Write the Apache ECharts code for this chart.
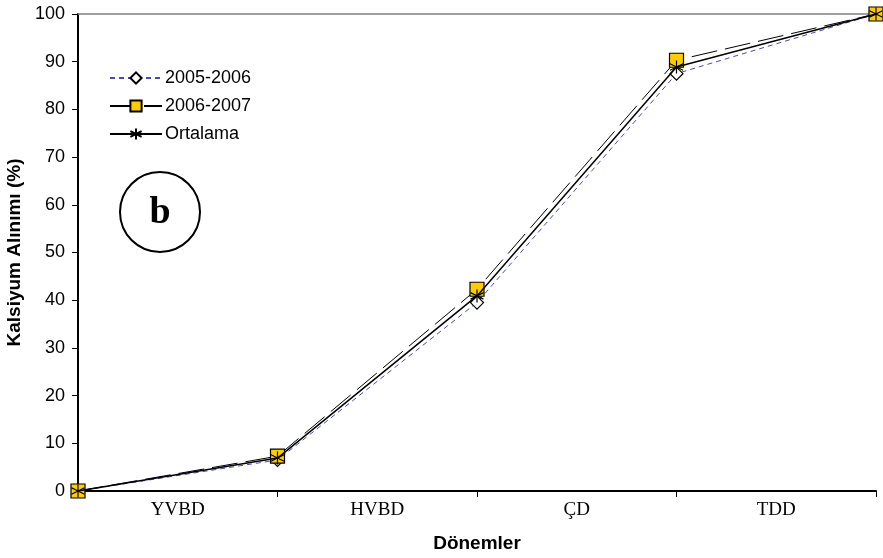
<!DOCTYPE html>
<html>
<head>
<meta charset="utf-8">
<script src="https://cdn.jsdelivr.net/npm/echarts@6/dist/echarts.min.js"></script>
<style>
html,body{margin:0;padding:0;background:#fff;}
#chart{width:883px;height:558px;}
</style>
</head>
<body>
<div id="chart"></div>
<script>
// Development periods shown between the tick marks
const periods = ['YVBD', 'HVBD', 'ÇD', 'TDD'];
// Cumulative calcium uptake (%) at each period boundary
const uptake2005 = [0, 6.5, 39.5, 87.5, 100];
const uptake2006 = [0, 7.3, 42.3, 90.3, 100];
const uptakeMean = [0, 6.9, 40.9, 88.9, 100];
const yTicks = [0, 10, 20, 30, 40, 50, 60, 70, 80, 90, 100];

const toPoints = arr => arr.map((v, i) => [i, v]);

const asterisk = 'path://M5,0L5,10M0,2.5L10,7.5M0,7.5L10,2.5';
const sansFont = 'Liberation Sans, Arial';

const chart = echarts.init(document.getElementById('chart'), null, {renderer: 'canvas'});

chart.setOption({
  animation: false,
  backgroundColor: '#fff',
  grid: {left: 78, right: 7, top: 14, bottom: 67, containLabel: false, outerBoundsMode: 'none'},
  legend: {
    orient: 'vertical',
    left: 104,
    top: 64,
    itemWidth: 52,
    itemHeight: 14,
    itemGap: 10,
    textStyle: {fontFamily: sansFont, fontSize: 18, color: '#000', padding: [0, 0, 0, -2]},
    data: ['2005-2006', '2006-2007', 'Ortalama']
  },
  xAxis: [
    {
      type: 'value', min: 0, max: periods.length, position: 'bottom',
      axisLine: {show: true, lineStyle: {color: '#000', width: 2}},
      axisTick: {show: false}, axisLabel: {show: false}, splitLine: {show: false}
    },
    {
      type: 'category', data: periods, boundaryGap: true, position: 'bottom',
      axisLine: {show: false},
      axisTick: {show: true, length: 6, lineStyle: {color: '#000', width: 1}},
      axisLabel: {fontFamily: 'Liberation Serif, Times New Roman', fontSize: 19, color: '#000', margin: 10},
      name: 'Dönemler', nameLocation: 'middle', nameGap: 43,
      nameTextStyle: {fontFamily: sansFont, fontWeight: 'bold', fontSize: 19, color: '#000'}
    },
    {
      type: 'value', min: 0, max: periods.length, position: 'top',
      axisLine: {show: true, lineStyle: {color: '#808080', width: 1.5}},
      axisTick: {show: false}, axisLabel: {show: false}, splitLine: {show: false}
    }
  ],
  yAxis: [
    {
      type: 'value', min: yTicks[0], max: yTicks[yTicks.length - 1], interval: 10,
      axisLine: {show: true, lineStyle: {color: '#000', width: 2}},
      axisTick: {show: true, length: 6, lineStyle: {color: '#000'}},
      axisLabel: {fontFamily: sansFont, fontSize: 18, color: '#000', margin: 13},
      splitLine: {show: false},
      name: 'Kalsiyum Alınımı (%)', nameLocation: 'middle', nameGap: 48,
      nameTextStyle: {fontFamily: sansFont, fontWeight: 'bold', fontSize: 19, color: '#000'}
    },
    {
      type: 'value', min: 0, max: 100, position: 'right',
      axisLine: {show: true, lineStyle: {color: '#000', width: 1.5}},
      axisTick: {show: false}, axisLabel: {show: false}, splitLine: {show: false}
    }
  ],
  series: [
    {
      name: '2005-2006', type: 'line', xAxisIndex: 0, yAxisIndex: 0,
      data: toPoints(uptake2005),
      lineStyle: {color: '#4a4ab0', width: 1, type: [5, 4]},
      symbol: 'diamond', symbolSize: 13, showAllSymbol: true,
      itemStyle: {color: '#fff', borderColor: '#000', borderWidth: 1.2},
      z: 2
    },
    {
      name: '2006-2007', type: 'line', xAxisIndex: 0, yAxisIndex: 0,
      data: toPoints(uptake2006),
      lineStyle: {color: '#000', width: 1, type: [26, 8]},
      symbol: 'rect', symbolSize: 14, showAllSymbol: true,
      itemStyle: {color: '#FFCC00', borderColor: '#000', borderWidth: 1.2},
      z: 3
    },
    {
      name: 'Ortalama', type: 'line', xAxisIndex: 0, yAxisIndex: 0,
      data: toPoints(uptakeMean),
      lineStyle: {color: '#000', width: 1.5},
      symbol: asterisk, symbolSize: 13, showAllSymbol: true,
      itemStyle: {color: 'none', borderColor: '#000', borderWidth: 1.2},
      z: 4
    }
  ],
  graphic: [
    {
      type: 'circle', x: 160, y: 212,
      shape: {cx: 0, cy: 0, r: 40},
      style: {fill: '#fff', stroke: '#000', lineWidth: 2},
      z: 10
    },
    {
      type: 'text', x: 160, y: 213,
      style: {text: 'b', fill: '#000', font: 'bold 38px "Liberation Serif", "Times New Roman", serif',
              align: 'center', verticalAlign: 'middle'},
      z: 11
    }
  ]
});
</script>
</body>
</html>
